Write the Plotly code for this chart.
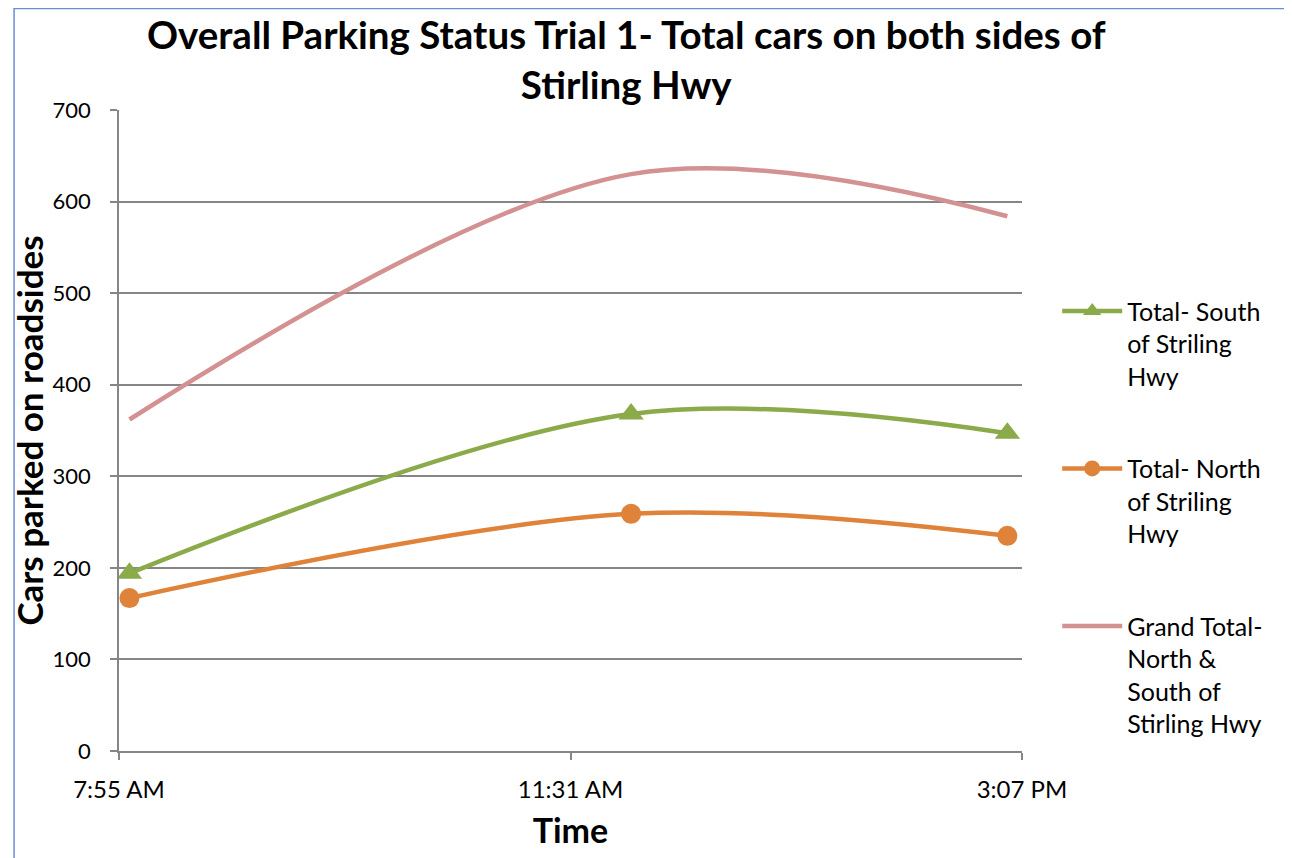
import plotly.graph_objects as go

# 측정 시각과 주차 대수
times = ['2000-01-01 08:00', '2000-01-01 12:00', '2000-01-01 15:00']
south = [194, 368, 347]
north = [167, 259, 235]
grand_total = [362, 630, 584]

tick_vals = ['2000-01-01 07:55', '2000-01-01 11:31', '2000-01-01 15:07']
tick_text = ['7:55 AM', '11:31 AM', '3:07 PM']
y_ticks = [0, 100, 200, 300, 400, 500, 600, 700]

FONT = 'Lato'
GRID = '#868686'

fig = go.Figure()
fig.add_trace(go.Scatter(
    x=times, y=south,
    name='Total- South<br>of Striling<br>Hwy',
    legendgroup='a',
    mode='lines+markers',
    line=dict(color='#8BAA4A', width=4.5, shape='spline', smoothing=1.0),
    marker=dict(symbol='triangle-up', size=22, color='#8BAA4A')
    ))
fig.add_trace(go.Scatter(
    x=times, y=north,
    name='Total- North<br>of Striling<br>Hwy',
    legendgroup='b',
    mode='lines+markers',
    line=dict(color='#DF823A', width=4.5, shape='spline', smoothing=1.0),
    marker=dict(symbol='circle', size=20, color='#DF823A')
    ))
fig.add_trace(go.Scatter(
    x=times, y=grand_total,
    name='Grand Total-<br>North &<br>South of<br>Stirling Hwy',
    legendgroup='c',
    mode='lines',
    line=dict(color='#D49191', width=4.5, shape='spline', smoothing=1.0)
    ))

# 페이지 여백(8px)을 고려한 크기
fig.update_layout(
    width=1284,
    height=850,
    paper_bgcolor='white',
    plot_bgcolor='white',
    font=dict(family=FONT, color='black', size=22),
    title=dict(
        text='<b>Overall Parking Status Trial 1- Total cars on both sides of<br>Stirling Hwy</b>',
        x=0.4815, xanchor='center',
        y=0.952, yanchor='top',
        font=dict(size=38.5, family=FONT)
        ),
    margin=dict(l=106, r=270, t=102, b=107),
    showlegend=True,
    legend=dict(
        x=1.039, xanchor='left',
        y=0.722, yanchor='top',
        font=dict(size=25, family=FONT),
        tracegroupgap=57,
        valign='top',
        itemwidth=60,
        bgcolor='rgba(0,0,0,0)'
        ),
    shapes=[dict(
        type='rect', xref='paper', yref='paper',
        x0=-0.1162, x1=1.2919, y0=-0.1825, y1=1.1583,
        line=dict(color='#6A8FD0', width=1.5)
        )]
    )
fig.update_xaxes(
    type='date',
    range=[tick_vals[0], tick_vals[-1]],
    tickvals=tick_vals,
    ticktext=tick_text,
    showgrid=False,
    showline=True, linecolor=GRID, linewidth=1.5,
    ticks='outside', ticklen=7, tickcolor=GRID, tickwidth=1.5,
    ticklabelstandoff=9,
    tickfont=dict(size=24, family=FONT),
    title=dict(text='<b>Time</b>', font=dict(size=34, family=FONT), standoff=18)
    )
fig.update_yaxes(
    range=[0, 700],
    tickvals=y_ticks,
    showgrid=True, gridcolor=GRID, gridwidth=1.5,
    showline=True, linecolor=GRID, linewidth=1.5,
    ticks='outside', ticklen=7, tickcolor=GRID, tickwidth=1.5,
    ticklabelstandoff=15,
    tickfont=dict(size=22, family=FONT),
    zeroline=False,
    title=dict(text='<b>Cars parked on roadsides</b>', font=dict(size=35, family=FONT), standoff=8)
    )

fig.write_html('out.html')
